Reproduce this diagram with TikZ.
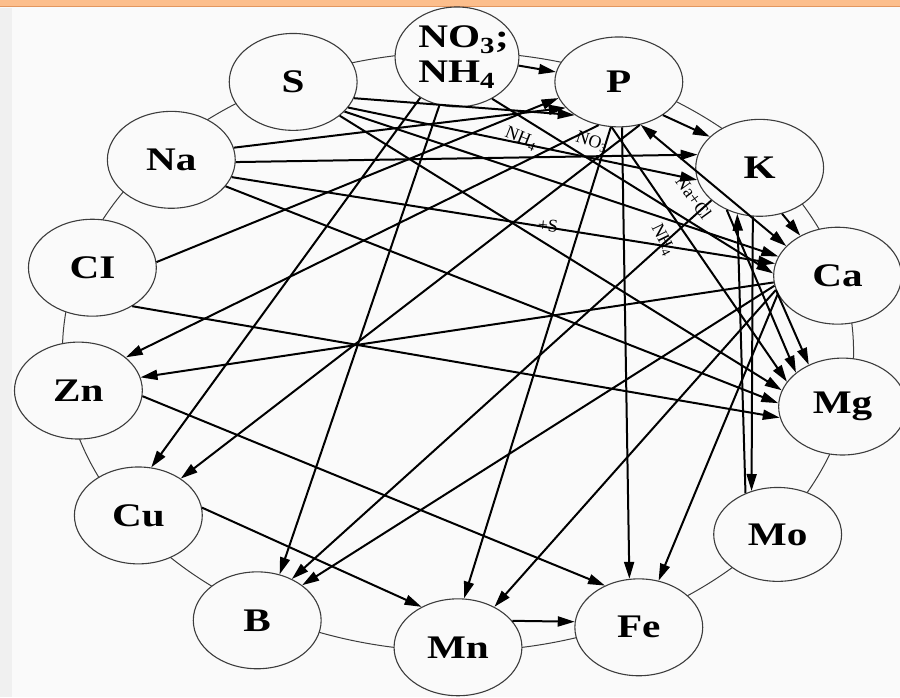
\documentclass[tikz,border=0pt]{standalone}
\usepackage{fontspec}
\setmainfont{Liberation Serif}
\usepackage{tikz}
\usepackage{xcolor}
\usetikzlibrary{arrows.meta,shapes.geometric}
\definecolor{paper}{RGB}{250,250,250}
\definecolor{rim}{RGB}{240,240,240}
\definecolor{banner}{RGB}{252,190,140}
\definecolor{bannerline}{RGB}{226,150,95}
\definecolor{outline}{RGB}{60,60,60}
\newcommand{\elem}[1]{\scalebox{1.25}[1]{\fontsize{33}{33}\selectfont\bfseries #1}}
\newcommand{\cond}[1]{\fontsize{18}{18}\selectfont #1}

\begin{document}
\begin{tikzpicture}[x=1pt, y=-1pt,
    element/.style = {ellipse, draw=outline, line width=1.1pt, fill=paper, inner sep=0pt,
                      minimum width=128pt, minimum height=97pt},
    link/.style = {line width=2pt, -{Triangle[length=17pt,width=10pt]}},
    twoway/.style = {line width=2pt, {Triangle[length=17pt,width=10pt]}-{Triangle[length=17pt,width=10pt]}},
    note/.style = {inner sep=0pt}]
  \fill[paper] (0,0) rectangle (900,698);
  \fill[rim] (0,8) rectangle (12,698);
  \fill[banner] (0,0) rectangle (900,7);
  \draw[bannerline, line width=1pt] (0,7) -- (900,7);
  \useasboundingbox (0,0) rectangle (900,698);

  \draw[outline, line width=1pt] (458,352) ellipse [x radius=396, y radius=300];

  \node[element, minimum width=124pt, minimum height=100pt] (no) at (457,57)
    {\elem{\parbox[c][30pt][c]{62pt}{NO\textsubscript{3};\\[2pt]NH\textsubscript{4}}}};
  \node[element, minimum height=90pt] (p) at (619,82) {\elem{P}};
  \node[element] (s) at (293,82) {\elem{S}};
  \node[element] (na) at (171,160) {\elem{Na}};
  \node[element] (cl) at (92,268) {\elem{CI}};
  \node[element] (zn) at (78,391) {\elem{Zn}};
  \node[element] (cu) at (138,516) {\elem{Cu}};
  \node[element] (b) at (257,621) {\elem{B}};
  \node[element] (mn) at (458,648) {\elem{Mn}};
  \node[element] (fe) at (639,628) {\elem{Fe}};
  \node[element, minimum height=94pt] (mo) at (778,535) {\elem{Mo}};
  \node[element] (mg) at (843,407) {\elem{Mg}};
  \node[element] (ca) at (838,276) {\elem{Ca}};
  \node[element] (k) at (760,168) {\elem{K}};

  \draw[link] (no.-8) -- (p.171);
  \draw[link] (p.-37) -- (k.148);
  \draw[link] (k.-64) -- (ca.133);
  \draw[link] (ca.193) -- (mg.129);
  \draw[link] (k.232) -- (mg.144);
  \draw[link] (p.261) -- (mg.156);
  \draw[link] (s.-36) -- (mg.165);
  \draw[link] (na.-26) -- (mg.177);
  \draw[link] (cl.-44) -- (mg.190);
  \draw[link] (na.11) -- (p.206);
  \draw[link] (na.-2) -- (k.168);
  \draw[link] (na.-16) -- (ca.169);
  \draw[link] (cl.5) -- (p.195);
  \draw[link] (s.-15) -- (p.217);
  \draw[link] (s.-25) -- (k.191);
  \draw[link] (s.-30) -- (ca.162);
  \draw[link] (no.-50) -- (ca.178);
  \draw[link] (no.228) -- (cu.75);
  \draw[link] (no.250) -- (b.64);
  \draw[link] (p.245) -- (zn.35);
  \draw[link] (p.-64) -- (cu.41);
  \draw[link] (p.-86) -- (fe.101);
  \draw[link] (p.260) -- (mn.83);
  \draw[link] (ca.186) -- (zn.12);
  \draw[link] (ca.189) -- (b.38);
  \draw[link] (ca.193) -- (mn.48);
  \draw[link] (ca.197) -- (fe.67);
  \draw[twoway] (ca.150) -- (p.297);
  \draw[link] (k.214) -- (b.50);
  \draw[link] (zn.-5) -- (fe.129);
  \draw[link] (cu.7) -- (mn.132);
  \draw[link] (mn.26) -- (fe.175);
  \draw[link] (k.262) -- (mo.121);
  \draw[link] (mo.128) -- (k.244);

  \node[note, rotate=-22] (nhone) at (521,139) {\cond{NH\textsubscript{4}}};
  \node[note, rotate=-18] (nothree) at (592,142) {\cond{NO\textsubscript{3}}};
  \node[note, rotate=-54] (nacl) at (694,198) {\cond{Na+Cl}};
  \node[note, rotate=-64] (nhtwo) at (663,240) {\cond{NH\textsubscript{4}}};
  \node[note, rotate=-6] (plus) at (548,226) {\cond{+S}};
\end{tikzpicture}
\end{document}
